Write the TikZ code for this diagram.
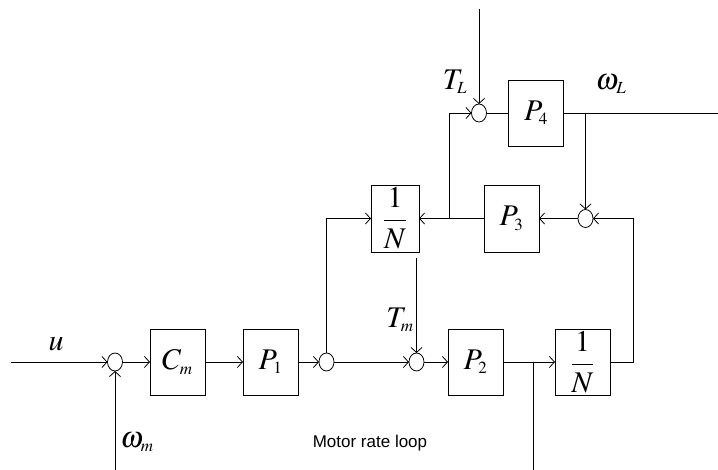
\documentclass[tikz,border=0pt]{standalone}
\usepackage{amsmath}
\usepackage{mathptmx}
\usepackage[no-math]{fontspec}
\setmainfont{Liberation Serif}
\setsansfont{Liberation Sans}
\DeclareMathSizes{30}{30}{17}{13}
\usepackage{tikz}
\usetikzlibrary{positioning, arrows.meta, shapes.geometric}

\begin{document}
\begin{tikzpicture}[
	x=1pt, y=1pt,
	>={Straight Barb[length=5pt,width=11pt]},
	% Estilo para los bloques
	block/.style={
		draw,
		rectangle,
		line width=0.8pt,
		minimum width=55pt,
		minimum height=66pt,
		inner sep=0pt,
		outer sep=0pt,
		align=center,
		font=\fontsize{30}{35}\selectfont
	},
	% Estilo para los sumadores
	sumnode/.style={
		draw,
		ellipse,
		line width=0.8pt,
		minimum width=15pt,
		minimum height=18pt,
		inner sep=0pt,
		outer sep=0pt
	},
	% Estilo para las senales
	signal/.style={
		line width=0.8pt
	},
	% Estilo para las etiquetas
	siglabel/.style={
		font=\fontsize{30}{35}\selectfont
	}
	]
	\useasboundingbox (0,0) rectangle (718,470);
	
	% --- Lazo inferior ---
	\node[sumnode] (s1) at (115,108) {};
	\node[block, right=27.5pt of s1] (cm) {$C_m$};
	\node[block, right=38pt of cm] (p1) {$P_1$};
	\node[sumnode, right=21pt of p1] (s2) {};
	\node[sumnode, right=75pt of s2] (s3) {};
	\node[block, right=24pt of s3] (p2) {$P_2$};
	\node[block, right=52pt of p2] (n2) {$\dfrac{1}{N}$};
	
	% --- Lazo intermedio ---
	\node[block, minimum width=48pt, minimum height=67pt] (n1) at (395,251.5) {$\dfrac{1}{N}$};
	\node[block, minimum height=67pt, right=65pt of n1] (p3) {$P_3$};
	\node[sumnode, right=39pt of p3] (s5) {};
	
	% --- Lazo superior ---
	\node[sumnode] (s4) at (479,357) {};
	\node[block, right=22pt of s4] (p4) {$P_4$};
	
	% Entradas y salidas
	\coordinate (uin) at (11,108);
	\coordinate (wmin) at (s1 |- 0,0);
	\path (s3.north) ++(0,95) coordinate (tmin);
	\path (s4.north) ++(0,95) coordinate (tlin);
	\coordinate (wlout) at (718,357);
	\coordinate (br2) at (533,108);
	\coordinate (br2end) at (533,0);
	\coordinate (br3) at (449,251.5);
	\coordinate (br4) at (s5 |- p4);
	
	% Conexiones del lazo inferior
	\draw[signal, ->] (uin) -- (s1.west);
	\draw[signal, ->] (wmin) -- (s1.south);
	\draw[signal, ->] (s1) -- (cm);
	\draw[signal, ->] (cm) -- (p1);
	\draw[signal, ->] (p1) -- (s2);
	\draw[signal, ->] (s2) -- (s3);
	\draw[signal, ->] (tmin) -- (s3.north);
	\draw[signal, ->] (s3) -- (p2);
	\draw[signal, ->] (p2) -- (n2);
	\draw[signal] (br2) -- (br2end);
	
	% Realimentaciones
	\draw[signal, ->] (s2.north) |- (n1.west);
	\draw[signal, ->] (n2.east) -- ++(23,0) |- (s5.east);
	\draw[signal, ->] (s5) -- (p3);
	\draw[signal, ->] (p3) -- (n1);
	\draw[signal, ->] (br3) |- (s4.west);
	\draw[signal, ->] (tlin) -- (s4.north);
	\draw[signal] (s4) -- (p4);
	\draw[signal] (p4) -- (wlout);
	\draw[signal, ->] (br4) -- (s5.north);
	
	% Etiquetas
	\node[siglabel] (lu) at (56,126) {$u$};
	\node[siglabel] (lwm) at (137,28) {$\omega_m$};
	\node[siglabel] (ltm) at (400,150) {$T_m$};
	\node[siglabel] (ltl) at (455,388) {$T_L$};
	\node[siglabel] (lwl) at (611,386) {$\omega_L$};
	\node[font=\sffamily\fontsize{17}{20}\selectfont] (title) at (370,27) {Motor rate loop};
	
\end{tikzpicture}
\end{document}
